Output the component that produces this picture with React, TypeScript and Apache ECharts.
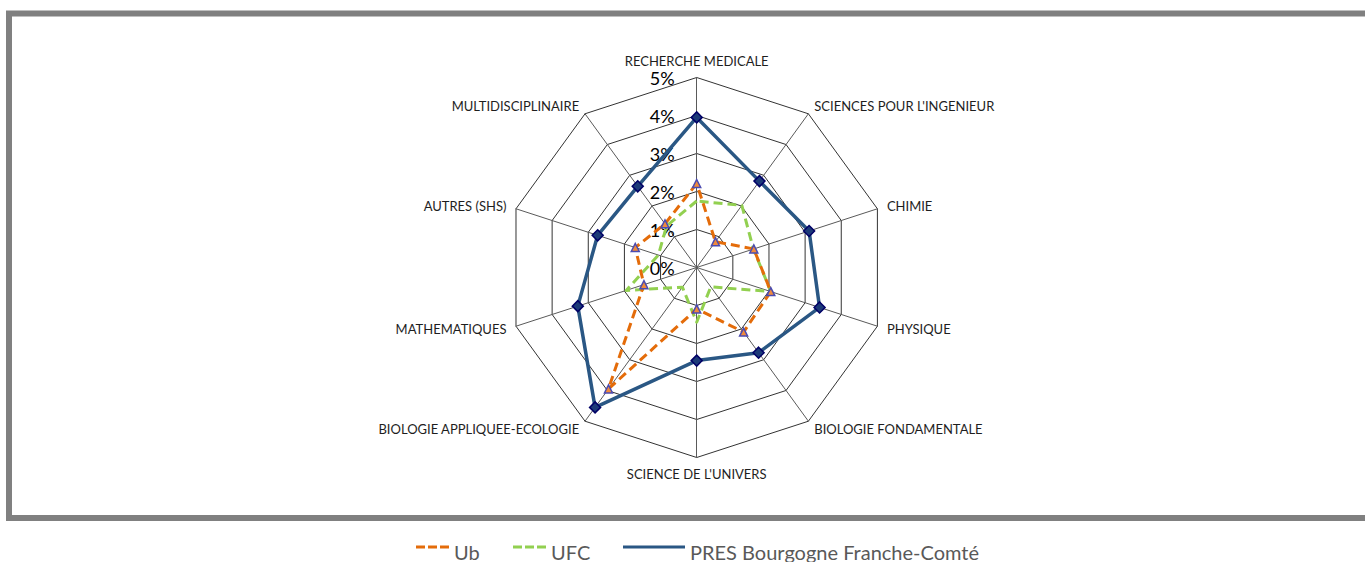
import React, { useEffect, useRef } from 'react';
import * as echarts from 'echarts';

// Indicators in ECharts radar order (counter-clockwise from the top)
const indicatorNames = [
  'RECHERCHE MEDICALE',
  'MULTIDISCIPLINAIRE',
  'AUTRES (SHS)',
  'MATHEMATIQUES',
  'BIOLOGIE APPLIQUEE-ECOLOGIE',
  "SCIENCE DE L'UNIVERS",
  'BIOLOGIE FONDAMENTALE',
  'PHYSIQUE',
  'CHIMIE',
  "SCIENCES POUR L'INGENIEUR",
];
const ubValues = [2.21, 1.42, 1.7, 1.46, 3.95, 1.09, 2.1, 2.05, 1.58, 0.84];
const ufcValues = [1.75, 1.35, 1.06, 1.95, 0.64, 1.44, 0.63, 2.05, 1.57, 2.02];
const presValues = [3.95, 2.64, 2.74, 3.29, 4.55, 2.45, 2.77, 3.4, 3.11, 2.81];
const seriesNames = ['Ub', 'UFC', 'PRES Bourgogne Franche-Comté'];
const axisMin = 0;
const axisMax = 5;
const axisSplits = 5;

export default function App() {
  const ref = useRef<HTMLDivElement>(null);
  useEffect(() => {
    document.body.style.margin = '0';
    const chart = echarts.init(ref.current!, undefined, { renderer: 'svg' });
    const font = 'Lato, "Open Sans", sans-serif';
    const legendText = {
      color: '#595959',
      fontSize: 20,
      fontFamily: font,
      rich: {
        t: { color: '#595959', fontSize: 20, fontFamily: font, padding: [9, 0, 0, 0] },
      },
    };
    const legendTop = 541.5;
    const legendFormatter = '{t|{name}}';
    const option: any = {
      animation: false,
      backgroundColor: '#ffffff',
      graphic: [
        {
          type: 'rect',
          silent: true,
          z: -10,
          shape: { x: 9, y: 13.5, width: 1400, height: 504.5 },
          style: { fill: 'none', stroke: '#808080', lineWidth: 6 },
        },
      ],
      radar: {
        center: [696.7, 267.5],
        radius: 190,
        startAngle: 90,
        shape: 'polygon',
        splitNumber: axisSplits,
        nameGap: 10,
        axisName: { color: '#1e1e1e', fontFamily: font, fontSize: 13 },
        axisLine: { lineStyle: { color: '#5a5a5a', width: 1 } },
        splitLine: { lineStyle: { color: '#333333', width: 1 } },
        splitArea: { show: false },
        axisTick: { show: false },
        axisLabel: { show: false },
        indicator: indicatorNames.map((name, i) =>
          i === 0
            ? {
                name,
                min: axisMin,
                max: axisMax,
                axisLabel: {
                  show: true,
                  formatter: '{value}%',
                  margin: 22,
                  color: '#000000',
                  fontSize: 18,
                  fontFamily: font,
                },
              }
            : { name, min: axisMin, max: axisMax }
        ),
      },
      legend: [
        {
          left: 416,
          top: legendTop,
          padding: 0,
          itemWidth: 33,
          itemHeight: 3,
          formatter: legendFormatter,
          textStyle: legendText,
          data: [
            {
              name: seriesNames[0],
              icon: 'path://M0,0h9v3H0zM12,0h9v3h-9zM24,0h9v3h-9z',
              itemStyle: { color: '#E46C0A', borderWidth: 0 },
            },
          ],
        },
        {
          left: 513,
          top: legendTop,
          padding: 0,
          itemWidth: 33,
          itemHeight: 3,
          formatter: legendFormatter,
          textStyle: legendText,
          data: [
            {
              name: seriesNames[1],
              icon: 'path://M0,0h9v3H0zM12,0h9v3h-9zM24,0h9v3h-9z',
              itemStyle: { color: '#92D050', borderWidth: 0 },
            },
          ],
        },
        {
          left: 623,
          top: legendTop,
          padding: 0,
          itemWidth: 62,
          itemHeight: 3,
          formatter: legendFormatter,
          textStyle: legendText,
          data: [
            {
              name: seriesNames[2],
              icon: 'rect',
              itemStyle: { color: '#2A5784', borderWidth: 0 },
            },
          ],
        },
      ],
      series: [
        {
          type: 'radar',
          name: seriesNames[1],
          symbol: 'none',
          lineStyle: { color: '#92D050', width: 3, type: [9, 5] },
          itemStyle: { color: '#92D050' },
          data: [{ name: seriesNames[1], value: ufcValues }],
        },
        {
          type: 'radar',
          name: seriesNames[0],
          symbol: 'triangle',
          symbolSize: 8,
          lineStyle: { color: '#E46C0A', width: 3, type: [9, 5] },
          itemStyle: { color: '#F08A3C', borderColor: '#4B4BB0', borderWidth: 1.5 },
          data: [{ name: seriesNames[0], value: ubValues }],
        },
        {
          type: 'radar',
          name: seriesNames[2],
          symbol: 'diamond',
          symbolSize: 11,
          lineStyle: { color: '#2A5784', width: 3.5 },
          itemStyle: { color: '#1C3A78', borderColor: '#000066', borderWidth: 1.5 },
          data: [{ name: seriesNames[2], value: presValues }],
        },
      ],
    };
    chart.setOption(option);
    return () => chart.dispose();
  }, []);
  return <div ref={ref} style={{ width: 1365, height: 562 }} />;
}
